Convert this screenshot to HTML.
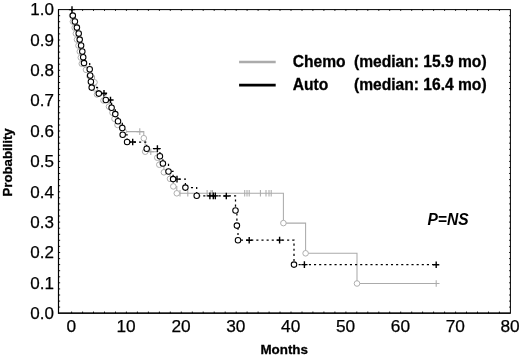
<!DOCTYPE html><html><head><meta charset="utf-8"><title>Survival</title>
<style>html,body{margin:0;padding:0;background:#fff}svg{display:block;will-change:transform}text{font-family:"Liberation Sans",Arial,sans-serif;fill:#000}</style></head><body>
<svg width="520" height="356" viewBox="0 0 520 356">
<rect width="520" height="356" fill="#fff"/>
<g fill="none" stroke="#ababab" stroke-width="1.05">
<path d="M71.5 9.5 H72.2 V15.6 H72.9 V21.6 H74.7 V27.7 H75.9 V33.6 H77.0 V39.6 H78.5 V45.6 H79.8 V51.6 H80.8 V57.6 H81.8 V63.7 H86.0 V69.8 H89.5 V76.0 H94.5 V82.3 H95.0 V88.4 H97.0 V94.4 H103.5 V100.5 H109.0 V106.6 H112.5 V112.7 H114.5 V118.8 H117.5 V124.9 H123.7 V131.6 H143.8 V138.2 H145.2 V151.7 H157.3 V157.7 H159.3 V164.7 H163.9 V172.3 H170.0 V178.8 H173.3 V186.4 H176.8 V193.3 H283.4 V223.1 H305.6 V253.3 H357.0 V283.5 H436.2"/>
<path d="M136.5 131.6h6.6M139.8 128.3v6.6"/>
<path d="M147.5 151.7h6.6M150.8 148.4v6.6"/>
<path d="M432.9 283.5h6.6M436.2 280.2v6.6"/>
<path d="M180.0 190.1v6.4"/>
<path d="M187.8 190.1v6.4"/>
<path d="M207.1 190.1v6.4"/>
<path d="M211.0 190.1v6.4"/>
<path d="M212.5 190.1v6.4"/>
<path d="M244.7 190.1v6.4"/>
<path d="M247.0 190.1v6.4"/>
<path d="M249.2 190.1v6.4"/>
<path d="M260.4 190.1v6.4"/>
<path d="M266.0 190.1v6.4"/>
<path d="M269.0 190.1v6.4"/>
<path d="M271.2 190.1v6.4"/>
</g>
<g fill="#fff" stroke="#ababab" stroke-width="0.95">
<circle cx="72.2" cy="15.6" r="2.8"/>
<circle cx="72.9" cy="21.6" r="2.8"/>
<circle cx="74.7" cy="27.7" r="2.8"/>
<circle cx="75.9" cy="33.6" r="2.8"/>
<circle cx="77.0" cy="39.6" r="2.8"/>
<circle cx="78.5" cy="45.6" r="2.8"/>
<circle cx="79.8" cy="51.6" r="2.8"/>
<circle cx="80.8" cy="57.6" r="2.8"/>
<circle cx="81.8" cy="63.7" r="2.8"/>
<circle cx="86.0" cy="69.8" r="2.8"/>
<circle cx="89.5" cy="76.0" r="2.8"/>
<circle cx="94.5" cy="82.3" r="2.8"/>
<circle cx="95.0" cy="88.4" r="2.8"/>
<circle cx="97.0" cy="94.4" r="2.8"/>
<circle cx="103.5" cy="100.5" r="2.8"/>
<circle cx="109.0" cy="106.6" r="2.8"/>
<circle cx="112.5" cy="112.7" r="2.8"/>
<circle cx="114.5" cy="118.8" r="2.8"/>
<circle cx="117.5" cy="124.9" r="2.8"/>
<circle cx="123.7" cy="131.6" r="2.8"/>
<circle cx="143.8" cy="138.2" r="2.8"/>
<circle cx="145.2" cy="151.7" r="2.8"/>
<circle cx="157.3" cy="157.7" r="2.8"/>
<circle cx="159.3" cy="164.7" r="2.8"/>
<circle cx="163.9" cy="172.3" r="2.8"/>
<circle cx="170.0" cy="178.8" r="2.8"/>
<circle cx="173.3" cy="186.4" r="2.8"/>
<circle cx="176.8" cy="193.3" r="2.8"/>
<circle cx="283.4" cy="223.1" r="2.8"/>
<circle cx="305.6" cy="253.3" r="2.8"/>
<circle cx="357.0" cy="283.5" r="2.8"/>
</g>
<path d="M71.5 9.5 H72.8 V15.6 H74.9 V21.5 H76.9 V27.6 H78.7 V33.6 H79.7 V39.6 H81.1 V45.5 H82.3 V51.4 H83.2 V57.3 H84.0 V63.1 H89.7 V69.3 H90.2 V75.5 H90.9 V81.8 H91.7 V87.6 H98.8 V93.6 H105.8 V100.0 H111.6 V107.8 H115.3 V114.1 H118.0 V121.2 H122.3 V128.0 H122.7 V134.8 H127.1 V142.0 H146.7 V148.7 H159.9 V156.3 H162.9 V163.5 H168.5 V171.4 H173.1 V179.1 H185.4 V187.6 H196.7 V195.8 H235.5 V210.5 H236.9 V225.6 H238.0 V240.2 H294.0 V264.6 H436.2" fill="none" stroke="#000" stroke-width="1.25" stroke-dasharray="2.1 3.03"/>
<g fill="none" stroke="#000" stroke-width="1.4">
<path d="M68.9 9.6h6.2M72.0 6.3v6.6"/>
<path d="M100.9 93.2h6.2M104.0 89.9v6.6"/>
<path d="M107.4 100.0h6.2M110.5 96.7v6.6"/>
<path d="M129.6 142.0h6.2M132.7 138.7v6.6"/>
<path d="M154.3 148.6h6.2M157.4 145.3v6.6"/>
<path d="M173.9 179.1h6.2M177.0 175.8v6.6"/>
<path d="M206.8 195.9h6.2M209.9 192.6v6.6"/>
<path d="M210.2 195.9h6.2M213.3 192.6v6.6"/>
<path d="M212.2 195.9h6.2M215.3 192.6v6.6"/>
<path d="M223.2 196.0h6.2M226.3 192.7v6.6"/>
<path d="M246.1 240.2h6.2M249.2 236.9v6.6"/>
<path d="M276.5 240.1h6.2M279.6 236.8v6.6"/>
<path d="M301.3 264.6h6.2M304.4 261.3v6.6"/>
<path d="M433.1 264.7h6.2M436.2 261.4v6.6"/>
</g>
<g fill="#fff" stroke="#000" stroke-width="1.05">
<circle cx="72.8" cy="15.6" r="2.75"/>
<circle cx="74.9" cy="21.5" r="2.75"/>
<circle cx="76.9" cy="27.6" r="2.75"/>
<circle cx="78.7" cy="33.6" r="2.75"/>
<circle cx="79.7" cy="39.6" r="2.75"/>
<circle cx="81.1" cy="45.5" r="2.75"/>
<circle cx="82.3" cy="51.4" r="2.75"/>
<circle cx="83.2" cy="57.3" r="2.75"/>
<circle cx="84.0" cy="63.1" r="2.75"/>
<circle cx="89.7" cy="69.3" r="2.75"/>
<circle cx="90.2" cy="75.5" r="2.75"/>
<circle cx="90.9" cy="81.8" r="2.75"/>
<circle cx="91.7" cy="87.6" r="2.75"/>
<circle cx="98.8" cy="93.6" r="2.75"/>
<circle cx="105.8" cy="100.0" r="2.75"/>
<circle cx="111.6" cy="107.8" r="2.75"/>
<circle cx="115.3" cy="114.1" r="2.75"/>
<circle cx="118.0" cy="121.2" r="2.75"/>
<circle cx="122.3" cy="128.0" r="2.75"/>
<circle cx="122.7" cy="134.8" r="2.75"/>
<circle cx="127.1" cy="142.0" r="2.75"/>
<circle cx="146.7" cy="148.7" r="2.75"/>
<circle cx="159.9" cy="156.3" r="2.75"/>
<circle cx="162.9" cy="163.5" r="2.75"/>
<circle cx="168.5" cy="171.4" r="2.75"/>
<circle cx="173.1" cy="179.1" r="2.75"/>
<circle cx="185.4" cy="187.6" r="2.75"/>
<circle cx="196.7" cy="195.8" r="2.75"/>
<circle cx="235.5" cy="210.5" r="2.75"/>
<circle cx="236.9" cy="225.6" r="2.75"/>
<circle cx="238.0" cy="240.2" r="2.75"/>
<circle cx="294.0" cy="264.6" r="2.75"/>
</g>
<rect x="58.5" y="9.6" width="451.9" height="303.6" fill="none" stroke="#000" stroke-width="1"/>
<path d="M58.5 9.6V313.2H510.4" fill="none" stroke="#000" stroke-width="1.2"/>
<path d="M71.6 313.2v-1.65M71.6 9.6v1.3M82.6 313.2v-1.65M82.6 9.6v1.3M93.5 313.2v-1.65M93.5 9.6v1.3M104.5 313.2v-1.65M104.5 9.6v1.3M115.5 313.2v-1.65M115.5 9.6v1.3M126.4 313.2v-1.65M126.4 9.6v1.3M137.4 313.2v-1.65M137.4 9.6v1.3M148.4 313.2v-1.65M148.4 9.6v1.3M159.4 313.2v-1.65M159.4 9.6v1.3M170.3 313.2v-1.65M170.3 9.6v1.3M181.3 313.2v-1.65M181.3 9.6v1.3M192.3 313.2v-1.65M192.3 9.6v1.3M203.2 313.2v-1.65M203.2 9.6v1.3M214.2 313.2v-1.65M214.2 9.6v1.3M225.2 313.2v-1.65M225.2 9.6v1.3M236.2 313.2v-1.65M236.2 9.6v1.3M247.1 313.2v-1.65M247.1 9.6v1.3M258.1 313.2v-1.65M258.1 9.6v1.3M269.1 313.2v-1.65M269.1 9.6v1.3M280.0 313.2v-1.65M280.0 9.6v1.3M291.0 313.2v-1.65M291.0 9.6v1.3M302.0 313.2v-1.65M302.0 9.6v1.3M312.9 313.2v-1.65M312.9 9.6v1.3M323.9 313.2v-1.65M323.9 9.6v1.3M334.9 313.2v-1.65M334.9 9.6v1.3M345.9 313.2v-1.65M345.9 9.6v1.3M356.8 313.2v-1.65M356.8 9.6v1.3M367.8 313.2v-1.65M367.8 9.6v1.3M378.8 313.2v-1.65M378.8 9.6v1.3M389.7 313.2v-1.65M389.7 9.6v1.3M400.7 313.2v-1.65M400.7 9.6v1.3M411.7 313.2v-1.65M411.7 9.6v1.3M422.6 313.2v-1.65M422.6 9.6v1.3M433.6 313.2v-1.65M433.6 9.6v1.3M444.6 313.2v-1.65M444.6 9.6v1.3M455.6 313.2v-1.65M455.6 9.6v1.3M466.5 313.2v-1.65M466.5 9.6v1.3M477.5 313.2v-1.65M477.5 9.6v1.3M488.5 313.2v-1.65M488.5 9.6v1.3M499.4 313.2v-1.65M499.4 9.6v1.3M58.5 307.1h1.65M510.4 307.1h-1.3M58.5 301.1h1.65M510.4 301.1h-1.3M58.5 295.0h1.65M510.4 295.0h-1.3M58.5 288.9h1.65M510.4 288.9h-1.3M58.5 282.8h1.65M510.4 282.8h-1.3M58.5 276.8h1.65M510.4 276.8h-1.3M58.5 270.7h1.65M510.4 270.7h-1.3M58.5 264.6h1.65M510.4 264.6h-1.3M58.5 258.6h1.65M510.4 258.6h-1.3M58.5 252.5h1.65M510.4 252.5h-1.3M58.5 246.4h1.65M510.4 246.4h-1.3M58.5 240.3h1.65M510.4 240.3h-1.3M58.5 234.3h1.65M510.4 234.3h-1.3M58.5 228.2h1.65M510.4 228.2h-1.3M58.5 222.1h1.65M510.4 222.1h-1.3M58.5 216.0h1.65M510.4 216.0h-1.3M58.5 210.0h1.65M510.4 210.0h-1.3M58.5 203.9h1.65M510.4 203.9h-1.3M58.5 197.8h1.65M510.4 197.8h-1.3M58.5 191.8h1.65M510.4 191.8h-1.3M58.5 185.7h1.65M510.4 185.7h-1.3M58.5 179.6h1.65M510.4 179.6h-1.3M58.5 173.5h1.65M510.4 173.5h-1.3M58.5 167.5h1.65M510.4 167.5h-1.3M58.5 161.4h1.65M510.4 161.4h-1.3M58.5 155.3h1.65M510.4 155.3h-1.3M58.5 149.3h1.65M510.4 149.3h-1.3M58.5 143.2h1.65M510.4 143.2h-1.3M58.5 137.1h1.65M510.4 137.1h-1.3M58.5 131.0h1.65M510.4 131.0h-1.3M58.5 125.0h1.65M510.4 125.0h-1.3M58.5 118.9h1.65M510.4 118.9h-1.3M58.5 112.8h1.65M510.4 112.8h-1.3M58.5 106.8h1.65M510.4 106.8h-1.3M58.5 100.7h1.65M510.4 100.7h-1.3M58.5 94.6h1.65M510.4 94.6h-1.3M58.5 88.5h1.65M510.4 88.5h-1.3M58.5 82.5h1.65M510.4 82.5h-1.3M58.5 76.4h1.65M510.4 76.4h-1.3M58.5 70.3h1.65M510.4 70.3h-1.3M58.5 64.2h1.65M510.4 64.2h-1.3M58.5 58.2h1.65M510.4 58.2h-1.3M58.5 52.1h1.65M510.4 52.1h-1.3M58.5 46.0h1.65M510.4 46.0h-1.3M58.5 40.0h1.65M510.4 40.0h-1.3M58.5 33.9h1.65M510.4 33.9h-1.3M58.5 27.8h1.65M510.4 27.8h-1.3M58.5 21.7h1.65M510.4 21.7h-1.3M58.5 15.7h1.65M510.4 15.7h-1.3" fill="none" stroke="#000" stroke-width="0.9"/>
<g font-size="17" text-anchor="end" stroke="#000" stroke-width="0.25">
<text x="53.9" y="318.9">0.0</text>
<text x="53.9" y="288.5">0.1</text>
<text x="53.9" y="258.2">0.2</text>
<text x="53.9" y="227.8">0.3</text>
<text x="53.9" y="197.5">0.4</text>
<text x="53.9" y="167.1">0.5</text>
<text x="53.9" y="136.7">0.6</text>
<text x="53.9" y="106.4">0.7</text>
<text x="53.9" y="76.0">0.8</text>
<text x="53.9" y="45.7">0.9</text>
<text x="53.9" y="15.3">1.0</text>
</g>
<g font-size="17.3" text-anchor="middle" stroke="#000" stroke-width="0.25">
<text x="71.3" y="332.2">0</text>
<text x="126.1" y="332.2">10</text>
<text x="181.0" y="332.2">20</text>
<text x="235.8" y="332.2">30</text>
<text x="290.7" y="332.2">40</text>
<text x="345.6" y="332.2">50</text>
<text x="400.4" y="332.2">60</text>
<text x="455.3" y="332.2">70</text>
<text x="510.1" y="332.2">80</text>
</g>
<text x="284.2" y="353.8" font-size="13.4" font-weight="bold" stroke="#000" stroke-width="0.3" text-anchor="middle">Months</text>
<text transform="translate(11.8 162.4) rotate(-90)" font-size="13.2" font-weight="bold" stroke="#000" stroke-width="0.3" text-anchor="middle">Probability</text>
<path d="M239.1 62H275.7" stroke="#ababab" stroke-width="2.7"/>
<path d="M239.1 85.2H275.7" stroke="#000" stroke-width="2.7"/>
<g font-size="15.6" font-weight="bold" stroke="#000" stroke-width="0.3">
<text x="292.7" y="66.9">Chemo</text><text x="354" y="66.9">(median: 15.9 mo)</text>
<text x="292.7" y="90.3">Auto</text><text x="354" y="90.3">(median: 16.4 mo)</text>
</g>
<text x="427.4" y="224.6" font-size="15.6" font-weight="bold" font-style="italic">P=NS</text>
</svg></body></html>
